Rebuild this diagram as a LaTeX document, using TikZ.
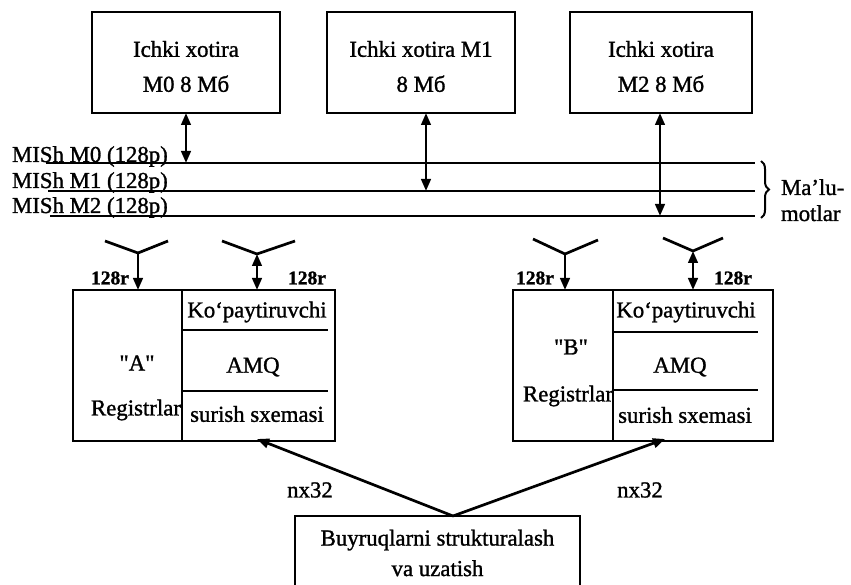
\documentclass[tikz,border=0pt]{standalone}
\usepackage{fontspec}
\setmainfont{Liberation Serif}[FakeBold=1.2]
\usetikzlibrary{arrows.meta,decorations.pathreplacing}
\begin{document}
\begin{tikzpicture}[x=1pt,y=-1pt,
  every node/.style={font=\fontsize{22.8}{35}\selectfont, inner sep=0pt, outer sep=0pt},
  box/.style={draw, line width=2.9pt},
  wire/.style={line width=2.7pt},
  thin wire/.style={line width=2pt},
  tip/.style={-{Triangle[length=12pt,width=9.5pt]}},
  both tips/.style={{Triangle[length=12pt,width=9.5pt]}-{Triangle[length=12pt,width=9.5pt]}},
  widthlabel/.style={font=\fontsize{19.5}{22}\selectfont\bfseries},
]
\useasboundingbox (0,0) rectangle (851,585);

% memory modules
\node[box, minimum width=188pt, minimum height=101pt] (m0) at (186,62.5) {};
\node[box, minimum width=188pt, minimum height=101pt] (m1) at (421,62.5) {};
\node[box, minimum width=182pt, minimum height=101pt] (m2) at (661,62.5) {};
\node[align=center] (m0t) at ([yshift=-4pt]m0.center) {Ichki xotira\\M0 8 Mб};
\node[align=center] (m1t) at ([yshift=-4pt]m1.center) {Ichki xotira M1\\8 Mб};
\node[align=center] (m2t) at ([yshift=-4pt]m2.center) {Ichki xotira\\M2 8 Mб};

% memory buses
\coordinate (b0w) at (46,163);  \coordinate (b0e) at (755,163);
\coordinate (b1w) at (48,191);  \coordinate (b1e) at (755,191);
\coordinate (b2w) at (50,216);  \coordinate (b2e) at (755,216);
\draw[wire] (b0w) -- (b0e);
\draw[wire] (b1w) -- (b1e);
\draw[wire] (b2w) -- (b2e);
\node[anchor=base west] (l0) at (12,162) {MISh M0 (128p)};
\node[anchor=base west] (l1) at (12,188) {MISh M1 (128p)};
\node[anchor=base west] (l2) at (12,213) {MISh M2 (128p)};

% memory-to-bus links
\coordinate (m1s) at ([xshift=5pt]m1.south);
\draw[wire, both tips] (m0.south) -- (m0.south |- b0w);
\draw[wire, both tips] (m1s) -- (m1s |- b1w);
\draw[wire, both tips] ([xshift=-1pt]m2.south) -- ([xshift=-1pt]m2.south |- b2w);

% bus brace and its caption
\draw[thin wire, decorate, decoration={brace, amplitude=8pt}] (761,161) -- (761,218);
\node[anchor=base west] (dat1) at (781,195) {Ma’lu-};
\node[anchor=base west] (dat2) at (781,221) {motlar};

% register blocks
\node[box, minimum width=262pt, minimum height=151pt] (ra) at (204,365.5) {};
\node[box, minimum width=260pt, minimum height=151pt] (rb) at (643,365.5) {};

\coordinate (adiv) at (182,0);
\coordinate (bdiv) at (613,0);
\draw[wire] (adiv |- ra.north) -- (adiv |- ra.south);
\draw[wire] (bdiv |- rb.north) -- (bdiv |- rb.south);
\draw[wire] (adiv |- 0,330) -- (328,330);
\draw[wire] (adiv |- 0,391) -- (328,391);
\draw[wire] (bdiv |- 0,332) -- (758,332);
\draw[wire] (bdiv |- 0,390) -- (758,390);

\node (aq) at (137,363) {\textquotedbl A\textquotedbl};
\node (areg) at (136,410) {Registrlar};
\node (amul) at (257,312) {Ko‘paytiruvchi};
\node (aamq) at (253,367) {AMQ};
\node (ash) at (257,414) {surish sxemasi};

\node (bq) at (571,347) {\textquotedbl B\textquotedbl};
\node (breg) at (568,396) {Registrlar};
\node (bmul) at (686,312) {Ko‘paytiruvchi};
\node (bamq) at (680,367) {AMQ};
\node (bsh) at (685,415) {surish sxemasi};

% bus taps into the register blocks
\coordinate (y1l) at (105,241); \coordinate (y1j) at (138,253); \coordinate (y1r) at (168,241);
\coordinate (y2l) at (222,241); \coordinate (y2j) at (257,254); \coordinate (y2r) at (295,241);
\coordinate (y3l) at (533,239); \coordinate (y3j) at (565,254); \coordinate (y3r) at (598,240);
\coordinate (y4l) at (663,238); \coordinate (y4j) at (693,251); \coordinate (y4r) at (723,238);
\foreach \t in {y1,y2,y3,y4} \draw[wire] (\t l) -- (\t j) -- (\t r);
\draw[wire, tip] (y1j) -- (y1j |- ra.north);
\draw[wire, both tips] (y2j) -- (y2j |- ra.north);
\draw[wire, tip] (y3j) -- (y3j |- rb.north);
\draw[wire, both tips] (y4j) -- (y4j |- rb.north);

\node[widthlabel] (w1) at (110,278) {128r};
\node[widthlabel] (w2) at (307,278) {128r};
\node[widthlabel] (w3) at (535,278) {128r};
\node[widthlabel] (w4) at (733,278) {128r};

% instruction dispatcher
\node[box, minimum width=285pt, minimum height=76pt, anchor=north] (bb) at (437.5,516) {};
\node[align=center, font=\fontsize{22.8}{30.5}\selectfont] (bbt) at (437.5,553) {Buyruqlarni strukturalash\\va uzatish};
\coordinate (src) at ([xshift=15.5pt]bb.north);
\coordinate (ain) at (y2j |- ra.south);
\coordinate (bin) at (665,0);
\draw[wire, tip] (src) -- ([yshift=2pt]ain);
\draw[wire, tip] (src) -- ([yshift=2pt]bin |- rb.south);
\node (n1) at (310,490) {nx32};
\node (n2) at (640,490) {nx32};
\end{tikzpicture}
\end{document}
